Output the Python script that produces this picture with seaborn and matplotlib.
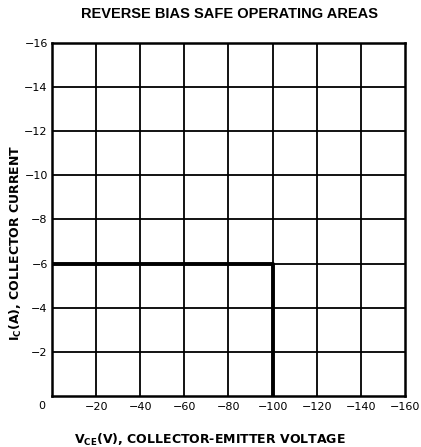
import matplotlib
matplotlib.use("Agg")
import matplotlib.pyplot as plt
import seaborn as sns
import pandas as pd

# Reverse-bias safe operating area boundary
v_ce = [0, -100, -100]
i_c = [-6, -6, 0]

x_ticks = [-20, -40, -60, -80, -100, -120, -140, -160]
y_ticks = [-2, -4, -6, -8, -10, -12, -14, -16]

sns.set_theme(style="white")
plt.rcParams["font.family"] = ["Liberation Sans", "DejaVu Sans"]
plt.rcParams["mathtext.default"] = "bf"

fig = plt.figure(figsize=(4.21, 4.47), dpi=100)
ax = fig.add_axes([0.1235, 0.1141, 0.962 - 0.1235, 0.9038 - 0.1141])

ax.set_xlim(0, -160)
ax.set_ylim(0, -16)

for x in x_ticks[:-1]:
    ax.axvline(x, color="black", lw=1.3, zorder=1)
for y in y_ticks[:-1]:
    ax.axhline(y, color="black", lw=1.3, zorder=1)

df = pd.DataFrame({"V_CE": v_ce, "I_C": i_c})
sns.lineplot(data=df, x="V_CE", y="I_C", sort=False, estimator=None,
             color="black", lw=2.8, ax=ax, zorder=3)

ax.set_xticks(x_ticks)
ax.set_xticklabels([f"\u2212{abs(v)}" for v in x_ticks])
ax.set_yticks(y_ticks)
ax.set_yticklabels([f"\u2212{abs(v)}" for v in y_ticks])
ax.tick_params(axis="x", labelsize=8, colors="black", length=0, pad=4)
ax.tick_params(axis="y", labelsize=8, colors="black", length=0, pad=3)
for lbl in ax.get_xticklabels() + ax.get_yticklabels():
    lbl.set_family("DejaVu Sans")
ax.text(-0.028, -0.028, "0", transform=ax.transAxes, fontsize=8,
        ha="center", va="center", color="black", family="DejaVu Sans")

for s in ax.spines.values():
    s.set_color("black")
    s.set_linewidth(1.8)

ax.set_xlabel(r"V$_{CE}$(V), COLLECTOR-EMITTER VOLTAGE",
              fontsize=9, fontweight="bold", color="black",
              family="DejaVu Sans")
ax.xaxis.set_label_coords(0.448, -0.102)
ax.set_ylabel(r"I$_{C}$(A), COLLECTOR CURRENT",
              fontsize=9, fontweight="bold", color="black",
              family="DejaVu Sans")
ax.yaxis.set_label_coords(-0.079, 0.433)
fig.suptitle("REVERSE BIAS SAFE OPERATING AREAS", x=0.546, y=0.985,
             fontsize=10.5, fontweight="bold", color="black")

fig.savefig("out.png", dpi=100)
